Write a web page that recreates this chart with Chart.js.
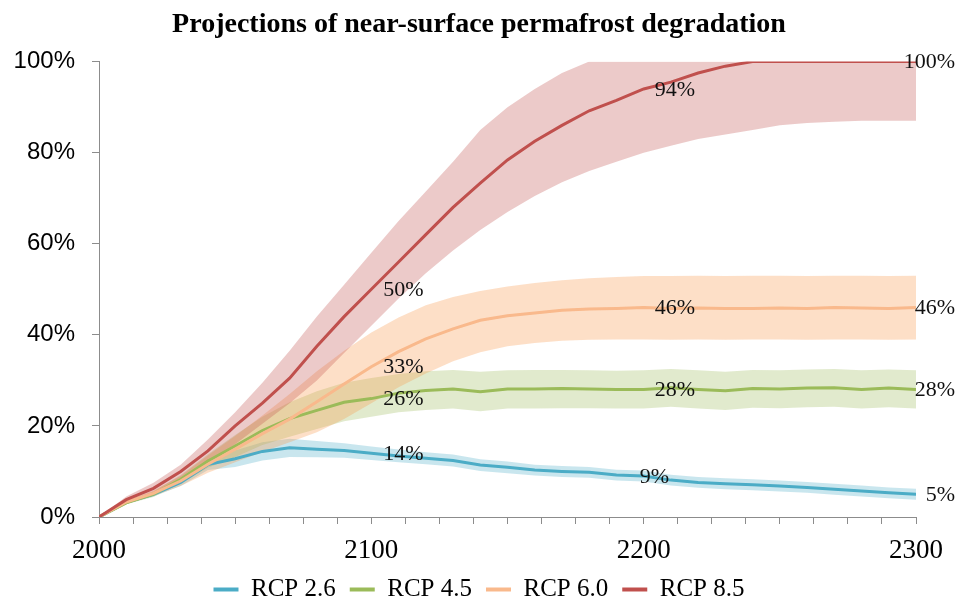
<!DOCTYPE html>
<html>
<head>
<meta charset="utf-8">
<title>Projections of near-surface permafrost degradation</title>
<script src="https://cdn.jsdelivr.net/npm/chart.js@4.4.1/dist/chart.umd.min.js"></script>
<style>
  html, body { margin: 0; padding: 0; background: #fff; }
  #wrap { width: 958px; height: 602px; position: relative; }
</style>
</head>
<body>
<div id="wrap"><canvas id="chart"></canvas></div>
<script>
// Share of near-surface permafrost lost (%), decadal steps
const years = [2000, 2010, 2020, 2030, 2040, 2050, 2060, 2070, 2080, 2090,
  2100, 2110, 2120, 2130, 2140, 2150, 2160, 2170, 2180, 2190,
  2200, 2210, 2220, 2230, 2240, 2250, 2260, 2270, 2280, 2290, 2300];

const rcp26 = [0, 3.2, 5, 7.6, 11.5, 12.8, 14.4, 15.2, 14.9, 14.6,
  14, 13.4, 12.9, 12.4, 11.4, 10.9, 10.3, 10, 9.8, 9.2,
  9, 8.1, 7.6, 7.3, 7.1, 6.8, 6.5, 6.1, 5.7, 5.3, 5];
const rcp26Low = [0, 2.9, 4.5, 6.8, 10.3, 11, 12.4, 13.2, 13.1, 13,
  12.5, 12, 11.6, 11.1, 10.1, 9.6, 9.1, 8.8, 8.6, 8,
  7.8, 6.9, 6.4, 6.1, 5.9, 5.6, 5.3, 4.9, 4.5, 4.1, 3.8];
const rcp26High = [0, 3.5, 5.5, 8.4, 12.7, 14.6, 16.4, 17.2, 16.7, 16.2,
  15.5, 14.8, 14.2, 13.7, 12.7, 12.2, 11.5, 11.2, 11, 10.4,
  10.2, 9.3, 8.8, 8.5, 8.3, 8, 7.7, 7.3, 6.9, 6.5, 6.2];

const rcp45 = [0, 3.1, 5, 8.3, 12.3, 15.6, 19, 21.6, 23.4, 25.2,
  26, 27.2, 27.8, 28.1, 27.5, 28.1, 28.1, 28.2, 28.1, 28,
  28, 28.4, 28, 27.7, 28.2, 28.1, 28.3, 28.4, 28, 28.3, 28];
const rcp45Low = [0, 2.8, 4.4, 7.4, 10.8, 13.2, 15.8, 17.6, 19.3, 21,
  22, 23, 23.5, 23.8, 23.2, 23.8, 23.8, 23.9, 23.9, 23.8,
  23.8, 24.2, 23.8, 23.5, 24, 23.9, 24.1, 24.2, 23.8, 24.1, 23.8];
const rcp45High = [0, 3.4, 5.6, 9.2, 13.8, 18, 22, 25.2, 27.6, 29.5,
  30.5, 31.4, 32, 32.3, 31.9, 32.2, 32.3, 32.3, 32.2, 32.1,
  32.2, 32.5, 32.2, 31.9, 32.3, 32.2, 32.4, 32.5, 32.2, 32.4, 32.2];

const rcp60 = [0, 3.3, 5.2, 7.9, 11.6, 14.9, 18.3, 21.5, 25.3, 29.2,
  33, 36.3, 39.1, 41.3, 43.2, 44.2, 44.8, 45.4, 45.7, 45.8,
  46, 45.8, 45.9, 45.8, 45.8, 45.9, 45.8, 46, 45.9, 45.8, 46];
const rcp60Low = [0, 3, 4.6, 6.8, 9.7, 12, 14.3, 16.4, 18.6, 21.5,
  25, 28.5, 31.5, 34.2, 36.2, 37.5, 38.2, 38.7, 38.9, 39,
  39, 38.9, 39, 38.9, 39, 39, 38.9, 39, 39, 38.9, 39];
const rcp60High = [0, 3.6, 5.8, 9, 13.5, 17.8, 22.3, 27, 32, 36.5,
  40.5, 43.8, 46.5, 48.3, 49.6, 50.6, 51.4, 52, 52.4, 52.7,
  52.9, 52.9, 53, 52.9, 53, 53, 52.9, 53, 53, 52.9, 53];

const rcp85 = [0, 3.8, 6.3, 10, 14.5, 20, 25, 30.5, 37.5, 44,
  50, 56, 62, 68, 73.3, 78.4, 82.5, 86, 89.2, 91.5,
  94, 95.5, 97.5, 99, 100, 100, 100, 100, 100, 100, 100];
const rcp85Low = [0, 3.3, 5.3, 8.5, 12, 16, 20.5, 25, 30, 36,
  42, 48, 53.5, 58.5, 63, 67, 70.5, 73.5, 76, 78,
  80, 81.5, 83, 84, 85, 86, 86.5, 86.8, 87, 87, 87];
const rcp85High = [0, 4.5, 7.5, 11.5, 17, 23, 29.5, 36.5, 44, 51,
  58, 65, 71.5, 78, 85, 90, 94, 97.5, 100, 100,
  100, 100, 100, 100, 100, 100, 100, 100, 100, 100, 100];

const labelYears = [2100, 2200, 2300];
const yTicks = [0, 20, 40, 60, 80, 100];
const xLabelYears = [2000, 2100, 2200, 2300];

const SERIF = "'Liberation Serif', 'DejaVu Serif', serif";
const SANS = "'Liberation Sans', Arial, sans-serif";

const series = [
  { name: "RCP 2.6", line: "#4bacc6", band: "rgba(75, 172, 198, 0.3)", mid: rcp26, low: rcp26Low, high: rcp26High, order: 3 },
  { name: "RCP 4.5", line: "#9bbb59", band: "rgba(155, 187, 89, 0.3)", mid: rcp45, low: rcp45Low, high: rcp45High, order: 2 },
  { name: "RCP 6.0", line: "#f9b98c", band: "rgba(247, 150, 70, 0.3)", mid: rcp60, low: rcp60Low, high: rcp60High, order: 1 },
  { name: "RCP 8.5", line: "#c0504d", band: "rgba(192, 80, 77, 0.3)", mid: rcp85, low: rcp85Low, high: rcp85High, order: 0 }
];

// where each value label sits relative to its point: left edge offset, or right-aligned edge
const labelPlacement = {
  2100: { align: "left", dx: 12 },
  2200: { align: "left", dx: 11 },
  2300: { align: "right", dx: 39 }
};
const labelNudge = { "RCP 2.6:2200": -15 };

function toPoints(values) {
  return years.map((year, i) => ({ x: year, y: values[i] }));
}

function buildDatasets() {
  const lines = series.map((s) => ({
    label: s.name,
    data: toPoints(s.mid),
    borderColor: s.line,
    backgroundColor: s.line,
    borderWidth: 3,
    pointRadius: 0,
    fill: false,
    order: s.order
  }));

  const bands = [];
  series.forEach((s) => {
    bands.push({
      label: s.name + " high",
      data: toPoints(s.high),
      borderWidth: 0,
      pointRadius: 0,
      backgroundColor: s.band,
      fill: "+1",
      order: 10 + s.order
    });
    bands.push({
      label: s.name + " low",
      data: toPoints(s.low),
      borderWidth: 0,
      pointRadius: 0,
      fill: false,
      order: 10 + s.order
    });
  });

  return lines.concat(bands);
}

const valueLabels = {
  id: "valueLabels",
  afterDatasetsDraw(chart) {
    const ctx = chart.ctx;
    ctx.save();
    ctx.font = "22px " + SERIF;
    ctx.fillStyle = "#111";
    ctx.textBaseline = "middle";
    series.forEach((s, di) => {
      const meta = chart.getDatasetMeta(di);
      labelYears.forEach((year) => {
        const idx = years.indexOf(year);
        const pt = meta.data[idx];
        if (!pt) {
          return;
        }
        const place = labelPlacement[year];
        const nudge = labelNudge[s.name + ":" + year] || 0;
        ctx.textAlign = place.align;
        ctx.fillText(s.mid[idx] + "%", pt.x + place.dx + nudge, pt.y + 1);
      });
    });
    ctx.restore();
  }
};

new Chart(document.getElementById("chart"), {
  type: "line",
  data: { datasets: buildDatasets() },
  plugins: [valueLabels],
  options: {
    animation: false,
    responsive: true,
    maintainAspectRatio: false,
    devicePixelRatio: 1,
    layout: { padding: { left: 0, right: 0, top: 0, bottom: -10 } },
    plugins: {
      filler: { drawTime: "beforeDatasetsDraw" },
      tooltip: { enabled: false },
      title: {
        display: true,
        text: "Projections of near-surface permafrost degradation",
        color: "#000",
        font: { family: SERIF, size: 28, weight: "bold", lineHeight: 1.2 },
        padding: { top: 8, bottom: 20 }
      },
      legend: {
        position: "bottom",
        labels: {
          boxWidth: 25,
          boxHeight: 4,
          padding: 14,
          color: "#000",
          font: { family: SERIF, size: 25 },
          filter: (item) => item.datasetIndex < series.length,
          sort: (a, b) => a.datasetIndex - b.datasetIndex,
          generateLabels(chart) {
            return Chart.defaults.plugins.legend.labels.generateLabels(chart)
              .map((item) => Object.assign(item, { lineWidth: 0 }));
          }
        }
      }
    },
    scales: {
      x: {
        type: "linear",
        min: 2000,
        max: 2300,
        afterFit(scale) {
          scale.height = 46;
          // room on the right for the end-of-century value labels
          scale.paddingRight = 42;
        },
        afterBuildTicks(scale) {
          const ticks = [];
          for (let v = 2000; v <= 2300; v += 12.5) {
            ticks.push({ value: v });
          }
          scale.ticks = ticks;
        },
        ticks: {
          autoSkip: false,
          maxRotation: 0,
          padding: 11,
          color: "#000",
          font: { family: SERIF, size: 27 },
          callback: (v) => xLabelYears.includes(v) ? String(v) : ""
        },
        grid: { drawOnChartArea: false, tickLength: 7, color: "#8c8c8c" },
        border: { color: "#8c8c8c", width: 1 }
      },
      y: {
        min: 0,
        max: 100,
        afterFit(scale) { scale.width = 99; },
        afterBuildTicks(scale) {
          scale.ticks = yTicks.map((v) => ({ value: v }));
        },
        ticks: {
          padding: 17,
          color: "#000",
          font: { family: SANS, size: 24 },
          callback: (v) => v + "%"
        },
        grid: { drawOnChartArea: false, tickLength: 7, color: "#8c8c8c" },
        border: { color: "#8c8c8c", width: 1 }
      }
    }
  }
});
</script>
</body>
</html>
